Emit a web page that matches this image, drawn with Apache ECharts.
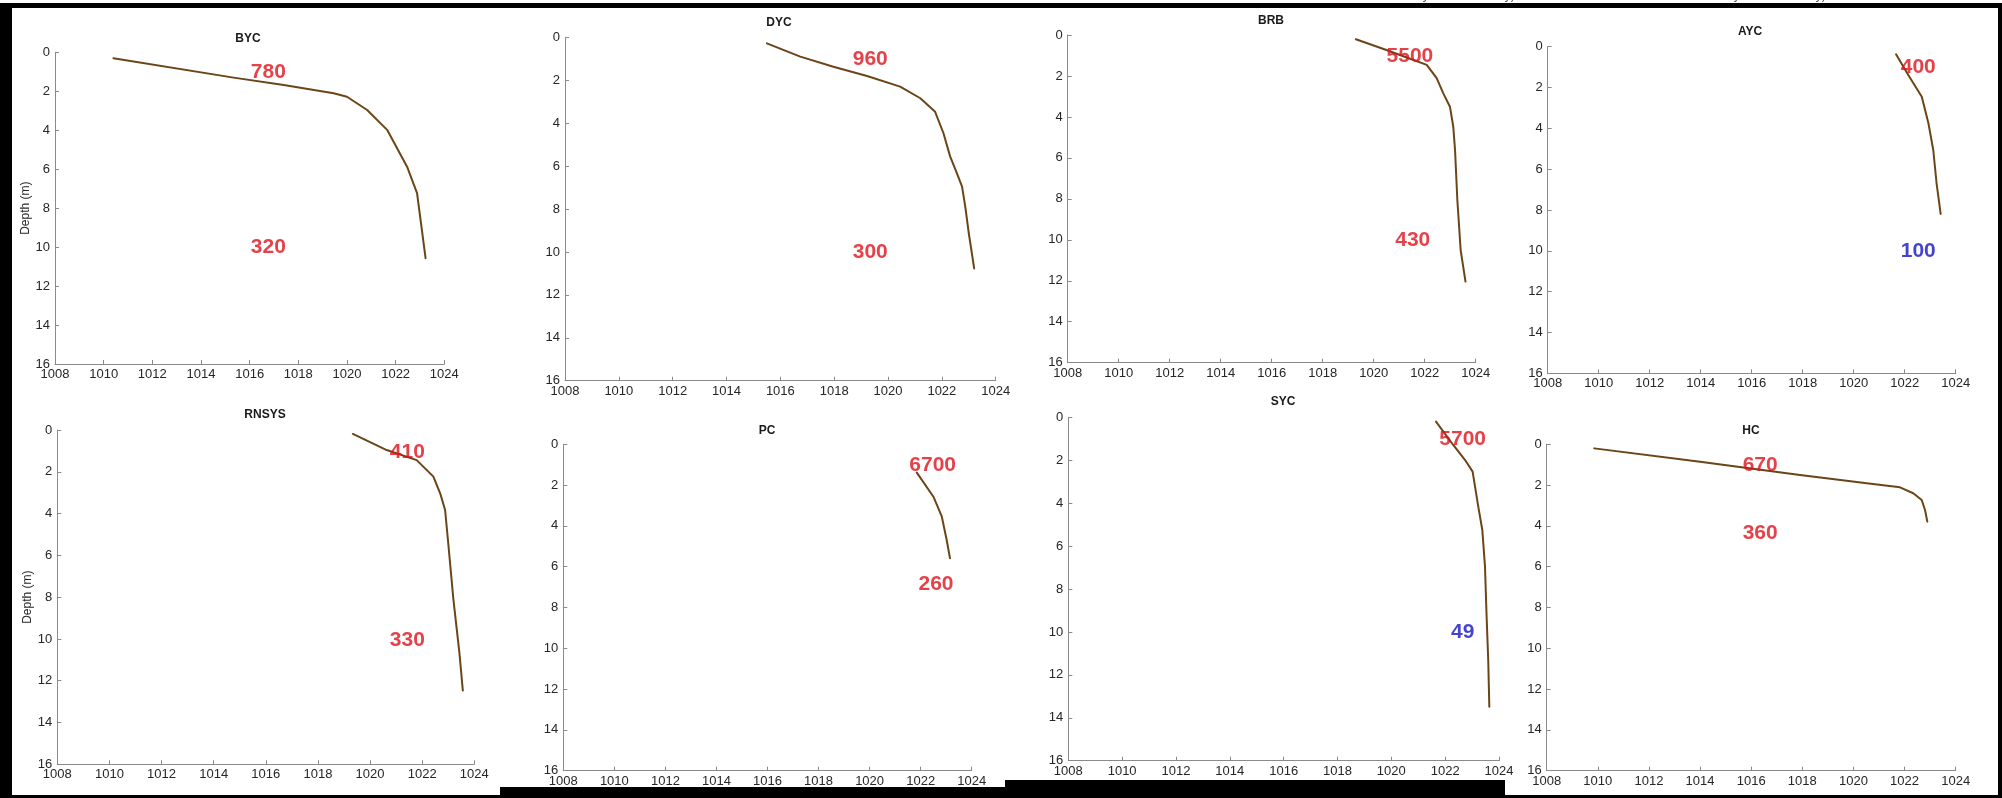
<!DOCTYPE html>
<html>
<head>
<meta charset="utf-8">
<script src="https://cdn.jsdelivr.net/npm/echarts@6/dist/echarts.min.js"></script>
<style>
html,body{margin:0;padding:0;background:#fff;}
#chart{width:2002px;height:798px;}
</style>
</head>
<body>
<div id="chart"></div>
<script>
// ---- data (density kg/m3 vs depth m) ----
const panelNames = ['BYC','DYC','BRB','AYC','RNSYS','PC','SYC','HC'];

const bycDensity = [1010.4, 1015.34, 1017.4, 1019.45, 1020.0, 1020.83, 1021.65, 1022.47, 1022.88, 1023.23];
const bycDepth   = [0.3, 1.3, 1.68, 2.1, 2.28, 2.96, 3.98, 5.87, 7.23, 10.57];

const dycDensity = [1015.5, 1016.74, 1017.97, 1019.22, 1020.45, 1021.2, 1021.75, 1022.06, 1022.31, 1022.56, 1022.75, 1022.87, 1023.0, 1023.2];
const dycDepth   = [0.28, 0.9, 1.37, 1.8, 2.3, 2.84, 3.47, 4.47, 5.56, 6.34, 6.96, 7.89, 9.13, 10.77];

const brbDensity = [1019.3, 1020.5, 1021.4, 1022.08, 1022.47, 1022.73, 1022.99, 1023.12, 1023.19, 1023.28, 1023.41, 1023.6];
const brbDepth   = [0.21, 0.73, 1.15, 1.46, 2.11, 2.85, 3.5, 4.48, 5.62, 8.06, 10.5, 12.04];

const aycDensity = [1021.66, 1022.14, 1022.67, 1022.93, 1023.12, 1023.25, 1023.41];
const aycDepth   = [0.37, 1.39, 2.45, 3.75, 5.06, 6.69, 8.19];

const rnsysDensity = [1019.34, 1020.64, 1021.79, 1022.43, 1022.69, 1022.88, 1023.0, 1023.2, 1023.43, 1023.56];
const rnsysDepth   = [0.19, 0.96, 1.44, 2.23, 3.03, 3.83, 5.42, 8.13, 10.68, 12.47];

const pcDensity = [1021.85, 1022.5, 1022.83, 1023.02, 1023.15];
const pcDepth   = [1.39, 2.57, 3.55, 4.69, 5.59];

const sycDensity = [1021.66, 1022.3, 1022.74, 1023.02, 1023.11, 1023.23, 1023.38, 1023.48, 1023.54, 1023.6, 1023.64];
const sycDepth   = [0.2, 1.29, 1.99, 2.53, 3.23, 4.16, 5.25, 6.96, 9.29, 11.31, 13.49];

const hcDensity = [1009.86, 1014.0, 1017.91, 1020.52, 1021.82, 1022.34, 1022.67, 1022.8, 1022.89];
const hcDepth   = [0.2, 0.85, 1.5, 1.91, 2.11, 2.4, 2.73, 3.22, 3.79];

// annotation labels: [density, depth, text, colorKey]
const bycNotes   = [[1016.77, 1.01, '780', 'r'], [1016.77, 10.0, '320', 'r']];
const dycNotes   = [[1019.34, 1.03, '960', 'r'], [1019.34, 10.02, '300', 'r']];
const brbNotes   = [[1021.42, 1.03, '5500', 'r'], [1021.53, 10.04, '430', 'r']];
const aycNotes   = [[1022.53, 0.98, '400', 'r'], [1022.53, 10.04, '100', 'b']];
const rnsysNotes = [[1021.43, 1.04, '410', 'r'], [1021.43, 10.05, '330', 'r']];
const pcNotes    = [[1022.47, 1.01, '6700', 'r'], [1022.6, 6.85, '260', 'r']];
const sycNotes   = [[1022.65, 1.03, '5700', 'r'], [1022.65, 10.02, '49', 'b']];
const hcNotes    = [[1016.35, 1.01, '670', 'r'], [1016.35, 4.36, '360', 'r']];

const xTicks = [1008, 1010, 1012, 1014, 1016, 1018, 1020, 1022, 1024];
const yTicks = [0, 2, 4, 6, 8, 10, 12, 14, 16];
const depthLabel = 'Depth (m)';
const topCutText = 'Days before survey)';

// ---- layout ----
const densities = [bycDensity, dycDensity, brbDensity, aycDensity, rnsysDensity, pcDensity, sycDensity, hcDensity];
const depths = [bycDepth, dycDepth, brbDepth, aycDepth, rnsysDepth, pcDepth, sycDepth, hcDepth];
const notes = [bycNotes, dycNotes, brbNotes, aycNotes, rnsysNotes, pcNotes, sycNotes, hcNotes];

const grids = [
  {left: 55,   top: 52.3,  width: 389.3, height: 311.7},
  {left: 565,  top: 37.3,  width: 430.7, height: 343.4},
  {left: 1067.7, top: 35,  width: 408,   height: 327.7},
  {left: 1547.7, top: 46.7, width: 408,  height: 326.6},
  {left: 57.3, top: 430,   width: 417,   height: 334.3},
  {left: 563.3, top: 444.3, width: 408.4, height: 326.4},
  {left: 1068.3, top: 417.3, width: 430.7, height: 343.4},
  {left: 1546.7, top: 444.3, width: 409, height: 326.4}
];
const titlePos = [[248,39],[779,23],[1271,21],[1750,32],[265,415],[767,431],[1283,402],[1751,431]];
const hasDepthName = [true,false,false,false,true,false,false,false];

const axisGrey = '#8a8a8a';
const labelCol = '#262626';
const lineCol = '#6b4518';
const noteCol = {r: '#e0121b', b: '#1414c4'};
const FONT = 'Liberation Sans, Arial, sans-serif';

const option = {
  backgroundColor: '#fff',
  animation: false,
  grid: grids.map(g => Object.assign({containLabel: false}, g)),
  xAxis: grids.map((g, i) => ({
    type: 'value', gridIndex: i, min: xTicks[0], max: xTicks[xTicks.length-1], interval: 2,
    axisLine: {show: true, onZero: false, lineStyle: {color: axisGrey, width: 1}},
    axisTick: {show: true, inside: true, length: 4, lineStyle: {color: axisGrey}},
    axisLabel: {show: true, color: labelCol, fontSize: 13, fontFamily: FONT, margin: 4, formatter: v => String(v)},
    splitLine: {show: false}
  })),
  yAxis: grids.map((g, i) => ({
    type: 'value', gridIndex: i, min: yTicks[0], max: yTicks[yTicks.length-1], interval: 2, inverse: true,
    name: hasDepthName[i] ? depthLabel : '',
    nameLocation: 'middle', nameGap: 22, nameRotate: 90,
    nameTextStyle: {color: labelCol, fontSize: 12, fontFamily: FONT},
    axisLine: {show: true, onZero: false, lineStyle: {color: axisGrey, width: 1}},
    axisTick: {show: true, inside: true, length: 4, lineStyle: {color: axisGrey}},
    axisLabel: {show: true, color: labelCol, fontSize: 13, fontFamily: FONT, margin: 5, formatter: v => String(v)},
    splitLine: {show: false}
  })),
  series: [],
  graphic: []
};

for (let i = 0; i < 8; i++) {
  option.series.push({
    type: 'line', xAxisIndex: i, yAxisIndex: i, showSymbol: false, smooth: false,
    data: densities[i].map((d, k) => [d, depths[i][k]]),
    lineStyle: {color: lineCol, width: 2, cap: 'round', join: 'round'},
    z: 2
  });
  option.series.push({
    type: 'scatter', xAxisIndex: i, yAxisIndex: i, symbolSize: 0,
    data: notes[i].map(n => ({value: [n[0], n[1]], label: {color: noteCol[n[3]]}, name: n[2]})),
    label: {show: true, position: 'inside', formatter: p => p.name, fontSize: 21, fontWeight: 'bold', fontFamily: FONT},
    z: 3
  });
  option.graphic.push({
    type: 'text', x: titlePos[i][0], y: titlePos[i][1],
    style: {text: panelNames[i], fill: '#1a1a1a', font: 'bold 12px ' + FONT, align: 'center', verticalAlign: 'middle'}
  });
}

// partial caption cut by the frame at the top
option.graphic.push({type: 'text', x: 1461, y: 2, style: {text: topCutText, fill: '#555', font: '12px ' + FONT, align: 'center', verticalAlign: 'bottom'}});
option.graphic.push({type: 'text', x: 1772, y: 2, style: {text: topCutText, fill: '#555', font: '12px ' + FONT, align: 'center', verticalAlign: 'bottom'}});

// black frame
const frame = [
  {x: 0, y: 3, w: 2002, h: 5},
  {x: 0, y: 3, w: 12, h: 795},
  {x: 1998, y: 3, w: 4, h: 795},
  {x: 0, y: 795, w: 500, h: 3},
  {x: 500, y: 787, w: 505, h: 11},
  {x: 1005, y: 780, w: 500, h: 18},
  {x: 1505, y: 795, w: 497, h: 3}
];
frame.forEach(f => option.graphic.push({type: 'rect', shape: {x: f.x, y: f.y, width: f.w, height: f.h}, style: {fill: '#000'}, z: 100}));

const chart = echarts.init(document.getElementById('chart'), null, {renderer: 'canvas'});
chart.setOption(option);
</script>
</body>
</html>
